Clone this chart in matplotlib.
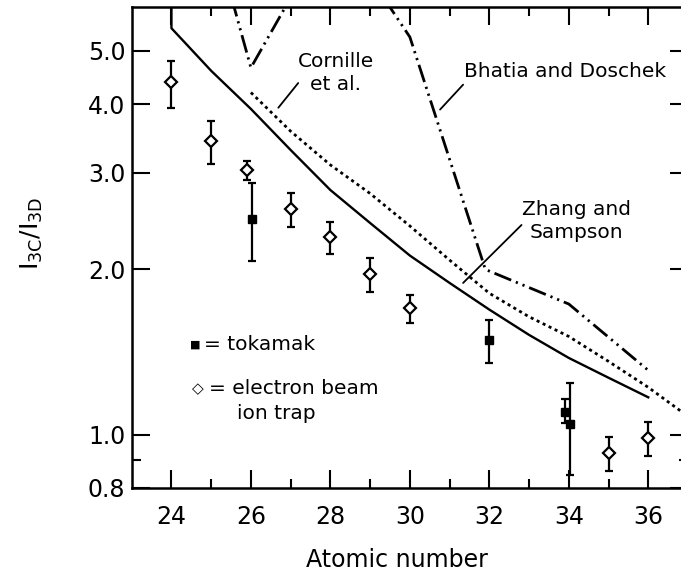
import matplotlib
matplotlib.use("Agg")
import matplotlib.pyplot as plt
from matplotlib.ticker import FixedLocator, NullFormatter


# =====================================================
# DATA
# =====================================================

# electron beam ion trap points (open diamonds)
ebit_z = [24, 25, 25.9, 27, 28, 29, 30, 35, 36]
ebit_val = [4.38, 3.42, 3.03, 2.58, 2.29, 1.96, 1.70, 0.926, 0.985]
ebit_lo = [3.94, 3.11, 2.91, 2.39, 2.13, 1.82, 1.60, 0.86, 0.913]
ebit_hi = [4.80, 3.72, 3.15, 2.76, 2.44, 2.10, 1.80, 0.989, 1.053]

# tokamak points (filled squares)
tok_z = [26.03, 32, 33.9, 34.03]
tok_val = [2.47, 1.49, 1.10, 1.046]
tok_lo = [2.07, 1.35, 1.05, 0.846]
tok_hi = [2.87, 1.62, 1.163, 1.24]

# theory curves
zs_z = [24, 24, 25, 26, 27, 28, 29, 30, 31, 32, 33, 34, 35, 36]
zs_val = [6.5, 5.5, 4.6, 3.92, 3.30, 2.79, 2.43, 2.12, 1.89, 1.69, 1.52, 1.38, 1.27, 1.17]

corn_z = [26, 27, 28, 29, 30, 31, 32, 33, 34, 35, 36, 37]
corn_val = [4.2, 3.57, 3.10, 2.75, 2.40, 2.08, 1.81, 1.64, 1.51, 1.36, 1.22, 1.08]

bd_z = [25, 26, 27, 29, 30, 31.9, 34, 36]
bd_val = [8.5, 4.66, 6.25, 6.8, 5.3, 2.0, 1.73, 1.31]

x_major = [24, 26, 28, 30, 32, 34, 36]
x_minor = [25, 27, 29, 31, 33, 35]
y_major = [0.8, 1.0, 2.0, 3.0, 4.0, 5.0]
y_labels = ["0.8", "1.0", "2.0", "3.0", "4.0", "5.0"]
y_minor = [0.9]


plt.rcParams["font.family"] = ["DejaVu Sans"]
plt.rcParams["mathtext.default"] = "regular"

fig = plt.figure(figsize=(6.81, 5.72), dpi=100)
ax = fig.add_axes([0.1934, 0.1469, 0.8169, 0.8401])

ax.set_yscale("log")
ax.set_xlim(23, 37)
ax.set_ylim(0.8, 6.0)


# curves
ax.plot(zs_z, zs_val, color="black", lw=1.7)
ax.plot(corn_z, corn_val, color="black", lw=2.0,
        linestyle=(0, (1.1, 1.3)))
ax.plot(bd_z, bd_val, color="black", lw=2.0,
        linestyle=(0, (6.5, 1.8, 0.8, 1.8, 0.8, 1.8)))


# data points
ax.errorbar(
    ebit_z, ebit_val,
    yerr=[[v - l for v, l in zip(ebit_val, ebit_lo)],
          [h - v for v, h in zip(ebit_val, ebit_hi)]],
    fmt="D", ms=6, mfc="white", mec="black", mew=1.6,
    ecolor="black", elinewidth=1.6, capsize=3, capthick=1.6
)

ax.errorbar(
    tok_z, tok_val,
    yerr=[[v - l for v, l in zip(tok_val, tok_lo)],
          [h - v for v, h in zip(tok_val, tok_hi)]],
    fmt="s", ms=6, mfc="black", mec="black",
    ecolor="black", elinewidth=1.6, capsize=3, capthick=1.6
)


# ticks
ax.xaxis.set_major_locator(FixedLocator(x_major))
ax.xaxis.set_minor_locator(FixedLocator(x_minor))
ax.yaxis.set_major_locator(FixedLocator(y_major))
ax.yaxis.set_minor_locator(FixedLocator(y_minor))
ax.set_yticklabels(y_labels)
ax.yaxis.set_minor_formatter(NullFormatter())

ax.tick_params(which="both", direction="in", top=True, right=True,
               width=1.5, labelsize=17)
ax.tick_params(which="major", length=13)
ax.tick_params(which="minor", length=6.5)
ax.tick_params(axis="x", pad=12.5)
ax.tick_params(axis="y", pad=4.5)

for s in ax.spines.values():
    s.set_linewidth(1.8)


# axis labels
fig.text(32 / 681, 1 - 234 / 572, "I$_{3C}$/I$_{3D}$",
         rotation=90, ha="center", va="center", fontsize=18)
fig.text(0.5934 - 0.01, 1 - 567 / 572, "Atomic number",
         ha="center", va="baseline", fontsize=17)


# curve labels with pointer lines
ax.text(28.14, 4.56, "Cornille\net al.", ha="center", va="center",
        fontsize=14.5, linespacing=1.3)
ax.annotate("", xy=(26.69, 3.94), xytext=(27.19, 4.37),
            arrowprops=dict(arrowstyle="-", color="black", lw=1.3,
                            shrinkA=0, shrinkB=0))

ax.text(33.9, 4.59, "Bhatia and Doschek", ha="center", va="center",
        fontsize=14.5)
ax.annotate("", xy=(30.76, 3.91), xytext=(31.34, 4.34),
            arrowprops=dict(arrowstyle="-", color="black", lw=1.3,
                            shrinkA=0, shrinkB=0))

ax.text(34.2, 2.45, "Zhang and\nSampson", ha="center", va="center",
        fontsize=14.5, linespacing=1.3)
ax.annotate("", xy=(31.34, 1.89), xytext=(32.81, 2.41),
            arrowprops=dict(arrowstyle="-", color="black", lw=1.3,
                            shrinkA=0, shrinkB=0))


# symbol key
ax.text(0.1147, 0.2976, "\u25a0", transform=ax.transAxes,
        ha="center", va="center", fontsize=8)
ax.text(0.130, 0.2976, "= tokamak", transform=ax.transAxes,
        ha="left", va="center", fontsize=14.5)
ax.text(0.119, 0.206, "\u25c7", transform=ax.transAxes,
        ha="center", va="center", fontsize=11, fontweight="bold")
ax.text(0.139, 0.206, "= electron beam", transform=ax.transAxes,
        ha="left", va="center", fontsize=14.5)
ax.text(0.189, 0.156, "ion trap", transform=ax.transAxes,
        ha="left", va="center", fontsize=14.5)


fig.savefig("out.png", dpi=100)
plt.close(fig)
